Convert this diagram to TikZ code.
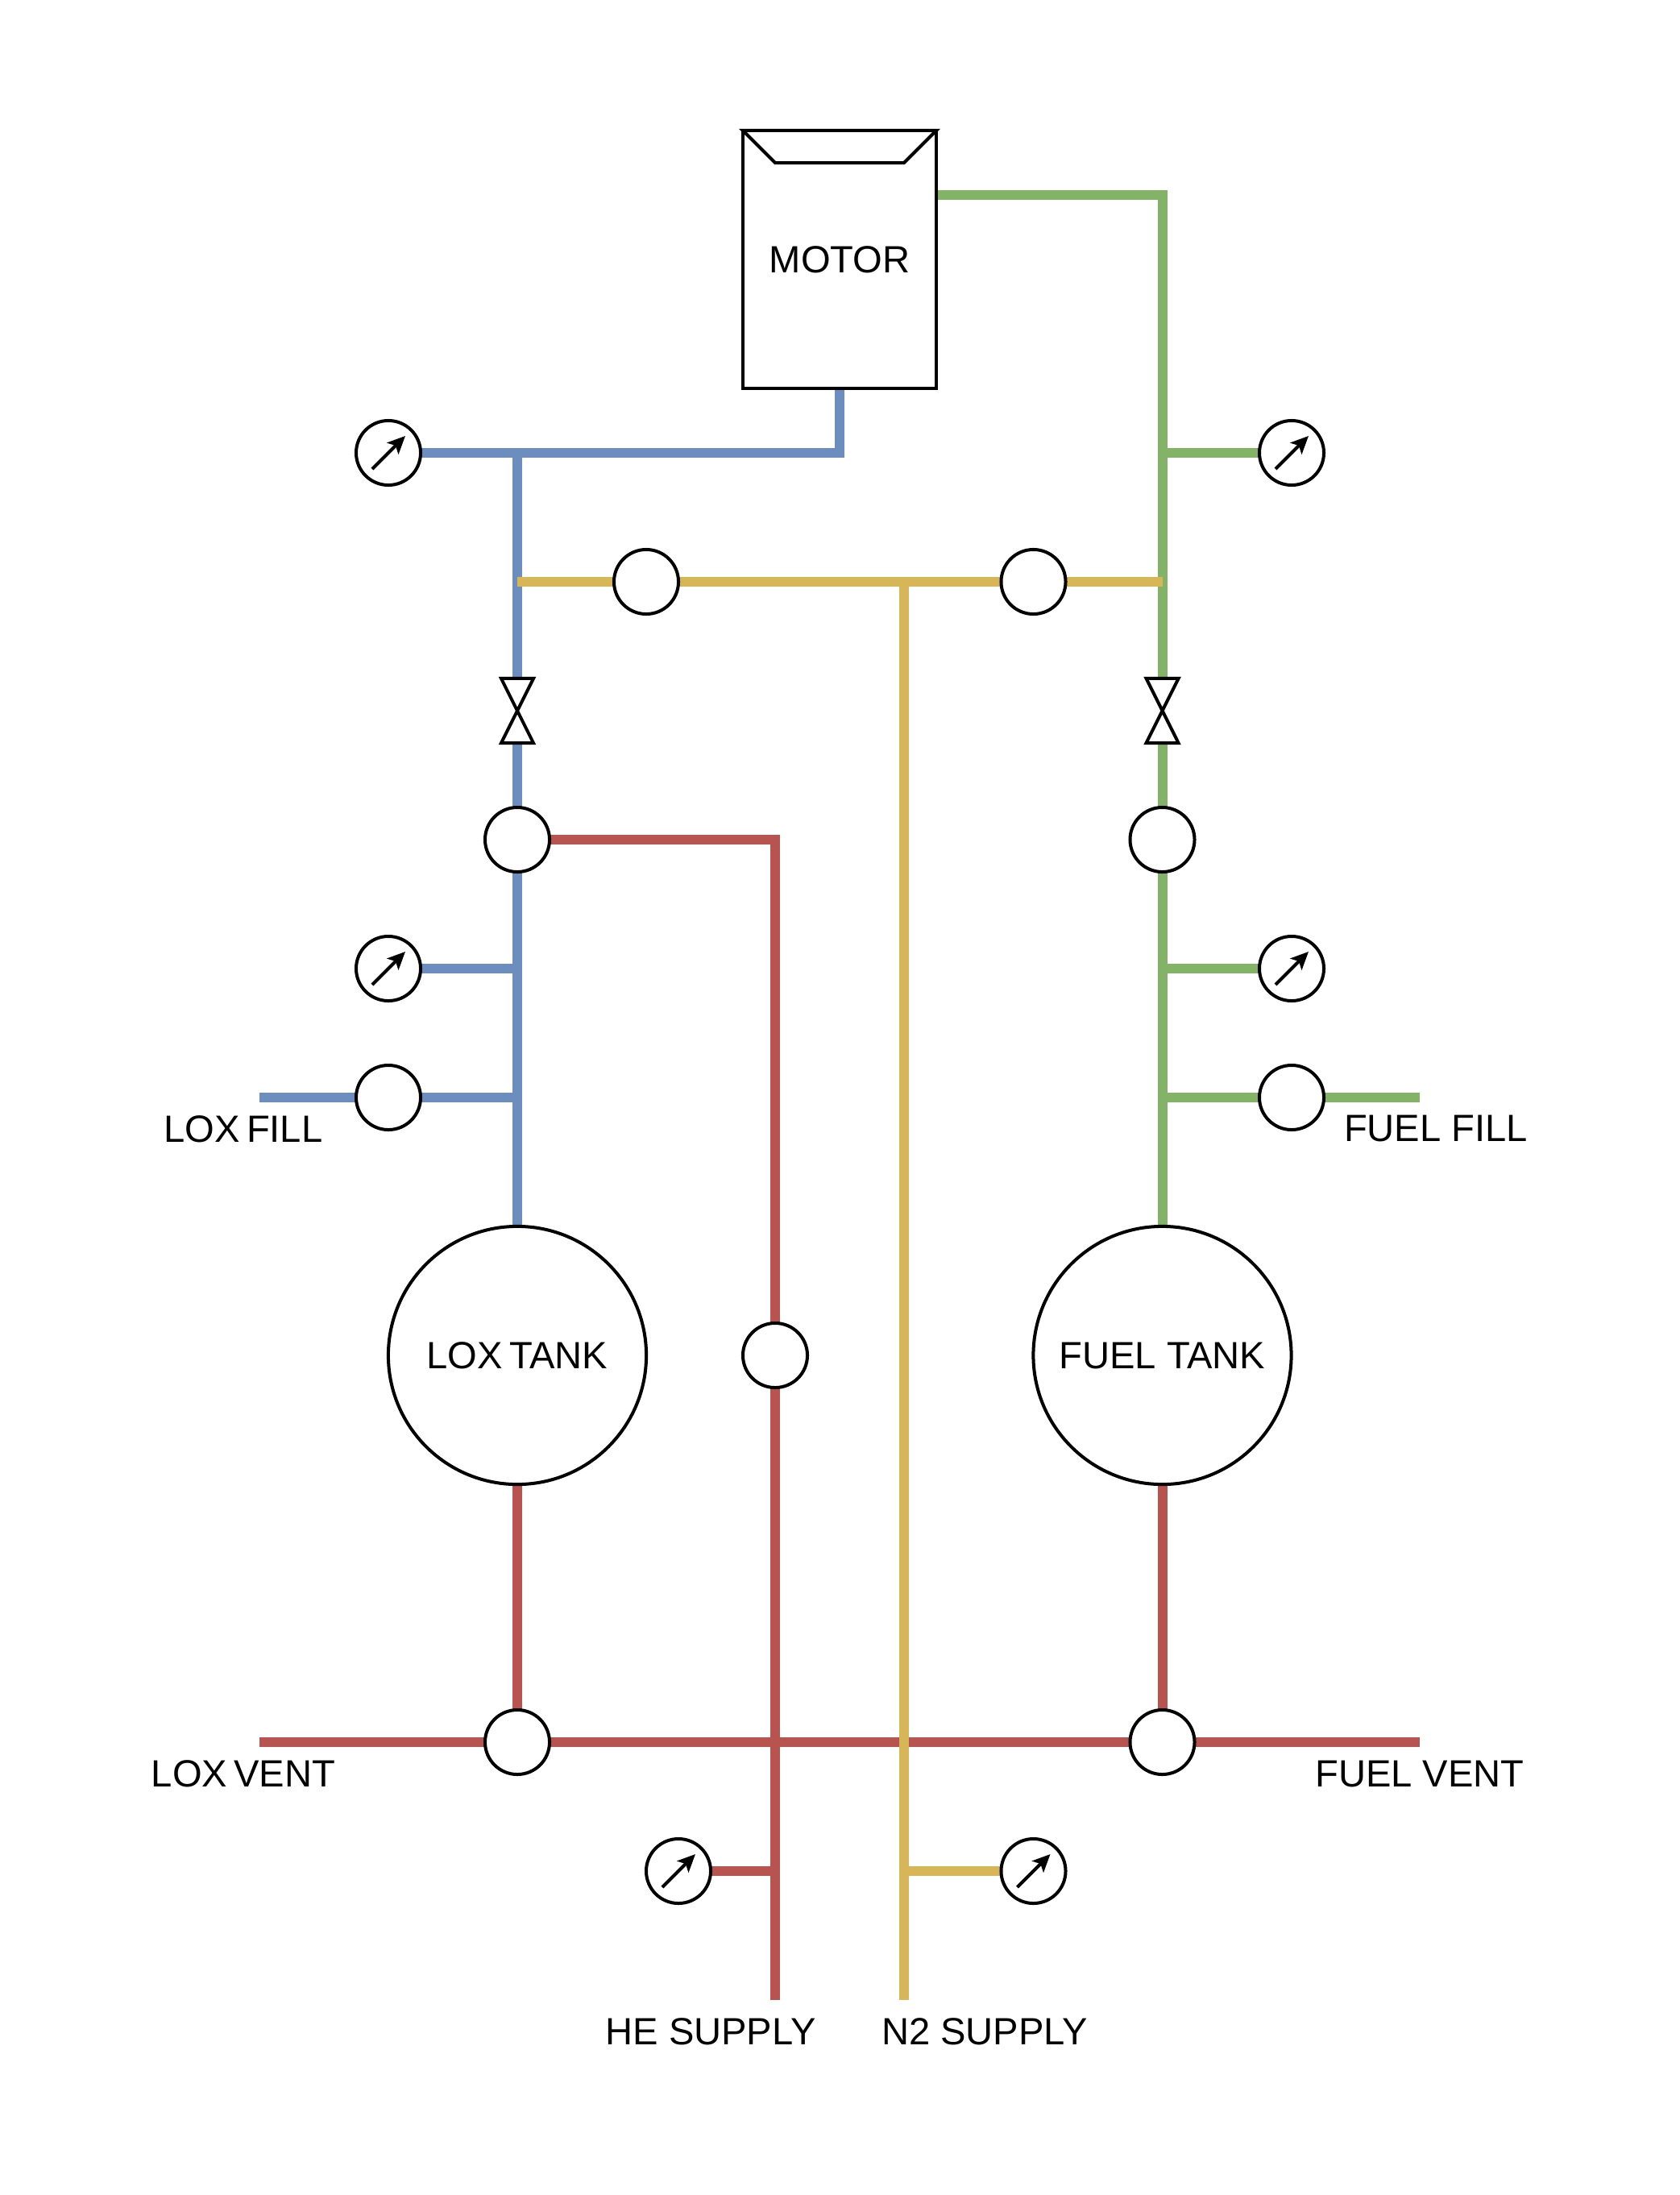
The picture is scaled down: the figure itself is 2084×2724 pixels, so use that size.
\documentclass[tikz,border=0pt]{standalone}
\usepackage{fontspec}
\setmainfont{Liberation Sans}
\usetikzlibrary{arrows.meta,backgrounds}

\definecolor{loxblue}{HTML}{6C8EBF}
\definecolor{fuelgreen}{HTML}{82B366}
\definecolor{ventred}{HTML}{B85450}
\definecolor{purgeyellow}{HTML}{D6B656}

\newcommand{\loxword}{LOX\kern-1.4pt}

\tikzset{
  every node/.style={inner sep=0pt, outer sep=0pt, font=\fontsize{13.4pt}{15pt}\selectfont},
  thinline/.style={line width=0.04cm, line join=miter},
  pipe/.style={line width=0.12cm},
  ball/.style={circle, draw, thinline, minimum size=0.8cm},
  tank/.style={circle, draw, thinline, minimum size=3.2cm},
  gauge/.style={ball, path picture={
    \draw[thinline, -{Stealth[length=0.22cm, width=0.2cm, inset=0.05cm]}]
      ([shift={(-20,20)}]path picture bounding box.center) -- ([shift={(21,-21)}]path picture bounding box.center);}},
  valve/.style={minimum width=0.4cm, minimum height=0.8cm, append after command={
    [thinline] (\tikzlastnode.north west) edge[draw=none] (\tikzlastnode.north east)
    \pgfextra{\draw[thinline] (\tikzlastnode.north west) -- (\tikzlastnode.south east)
      -- (\tikzlastnode.south west) -- (\tikzlastnode.north east) -- cycle;}}}
}

\begin{document}
\begin{tikzpicture}[x=0.01cm, y=-0.01cm]
\useasboundingbox (0,0) rectangle (2084,2724);

% Motor
\node[draw, thinline, minimum width=2.4cm, minimum height=3.2cm] (motor) at (1042,322) {MOTOR};
\draw[thinline] (motor.north west) -- (962,202) -- (1122,202) -- (motor.north east) -- cycle;

% Lado LOX
\node[gauge] (gaugeLoxTop) at (482,562) {};
\node[valve] (valveLox) at (642,882) {};
\node[ball] (ballLox) at (642,1042) {};
\node[gauge] (gaugeLoxMid) at (482,1202) {};
\node[ball] (ballLoxFill) at (482,1362) {};
\node[tank] (tankLox) at (642,1682) {\loxword{} TANK};
\node[ball] (ballLoxVent) at (642,2162) {};

% Lado FUEL
\node[gauge] (gaugeFuelTop) at (1603,562) {};
\node[valve] (valveFuel) at (1442.5,882) {};
\node[ball] (ballFuel) at (1442.5,1042) {};
\node[gauge] (gaugeFuelMid) at (1603,1202) {};
\node[ball] (ballFuelFill) at (1603,1362) {};
\node[tank] (tankFuel) at (1442.5,1682) {FUEL TANK};
\node[ball] (ballFuelVent) at (1442.5,2162) {};

% Centro
\node[ball] (ballPurgeLox) at (802,722) {};
\node[ball] (ballPurgeFuel) at (1282.5,722) {};
\node[ball] (ballHe) at (962,1682) {};
\node[gauge] (gaugeHe) at (842,2322) {};
\node[gauge] (gaugeN) at (1282.5,2322) {};

% Textos
\node (labelLoxFill) at (302,1401) {\loxword{} FILL};
\node (labelFuelFill) at (1782,1401) {FUEL FILL};
\node (labelLoxVent) at (302,2201) {\loxword{} VENT};
\node (labelFuelVent) at (1762,2201) {FUEL VENT};
\node (labelHe) at (882,2521) {HE SUPPLY};
\node (labelN) at (1222,2521) {N2 SUPPLY};

% Puntos de union y extremos libres
\coordinate (loxTop) at (642,562);
\coordinate (loxPurge) at (642,722);
\coordinate (loxMid) at (642,1202);
\coordinate (loxFill) at (642,1362);
\coordinate (loxFillEnd) at (322,1362);
\coordinate (fuelOut) at (1162,242);
\coordinate (fuelTop) at (1442.5,562);
\coordinate (fuelPurge) at (1442.5,722);
\coordinate (fuelMid) at (1442.5,1202);
\coordinate (fuelFill) at (1442.5,1362);
\coordinate (fuelFillEnd) at (1762,1362);
\coordinate (ventLoxEnd) at (322,2162);
\coordinate (ventFuelEnd) at (1762,2162);
\coordinate (heTee) at (962,2322);
\coordinate (heEnd) at (962,2482);
\coordinate (nTop) at (1122,722);
\coordinate (nTee) at (1122,2322);
\coordinate (nEnd) at (1122,2482);

\begin{scope}[on background layer]
% Tuberias azules
\draw[pipe, loxblue] (motor.south) |- (gaugeLoxTop.east);
\draw[pipe, loxblue] (loxTop) -- (valveLox.north);
\draw[pipe, loxblue] (valveLox.south) -- (ballLox.north);
\draw[pipe, loxblue] (ballLox.south) -- (tankLox.north);
\draw[pipe, loxblue] (loxMid) -- (gaugeLoxMid.east);
\draw[pipe, loxblue] (loxFill) -- (ballLoxFill.east);
\draw[pipe, loxblue] (ballLoxFill.west) -- (loxFillEnd);

% Tuberias verdes
\draw[pipe, fuelgreen] (fuelOut) -| (valveFuel.north);
\draw[pipe, fuelgreen] (valveFuel.south) -- (ballFuel.north);
\draw[pipe, fuelgreen] (ballFuel.south) -- (tankFuel.north);
\draw[pipe, fuelgreen] (fuelTop) -- (gaugeFuelTop.west);
\draw[pipe, fuelgreen] (fuelMid) -- (gaugeFuelMid.west);
\draw[pipe, fuelgreen] (fuelFill) -- (ballFuelFill.west);
\draw[pipe, fuelgreen] (ballFuelFill.east) -- (fuelFillEnd);

% Tuberias rojas
\draw[pipe, ventred] (ballLox.east) -| (ballHe.north);
\draw[pipe, ventred] (ballHe.south) -- (heEnd);
\draw[pipe, ventred] (heTee) -- (gaugeHe.east);
\draw[pipe, ventred] (tankLox.south) -- (ballLoxVent.north);
\draw[pipe, ventred] (tankFuel.south) -- (ballFuelVent.north);
\draw[pipe, ventred] (ventLoxEnd) -- (ballLoxVent.west);
\draw[pipe, ventred] (ballLoxVent.east) -- (ballFuelVent.west);
\draw[pipe, ventred] (ballFuelVent.east) -- (ventFuelEnd);

% Tuberias amarillas
\draw[pipe, purgeyellow] (loxPurge) -- (ballPurgeLox.west);
\draw[pipe, purgeyellow] (ballPurgeLox.east) -- (ballPurgeFuel.west);
\draw[pipe, purgeyellow] (ballPurgeFuel.east) -- (fuelPurge);
\draw[pipe, purgeyellow] (nTop) -- (nEnd);
\draw[pipe, purgeyellow] (nTee) -- (gaugeN.west);
\end{scope}
\end{tikzpicture}
\end{document}
